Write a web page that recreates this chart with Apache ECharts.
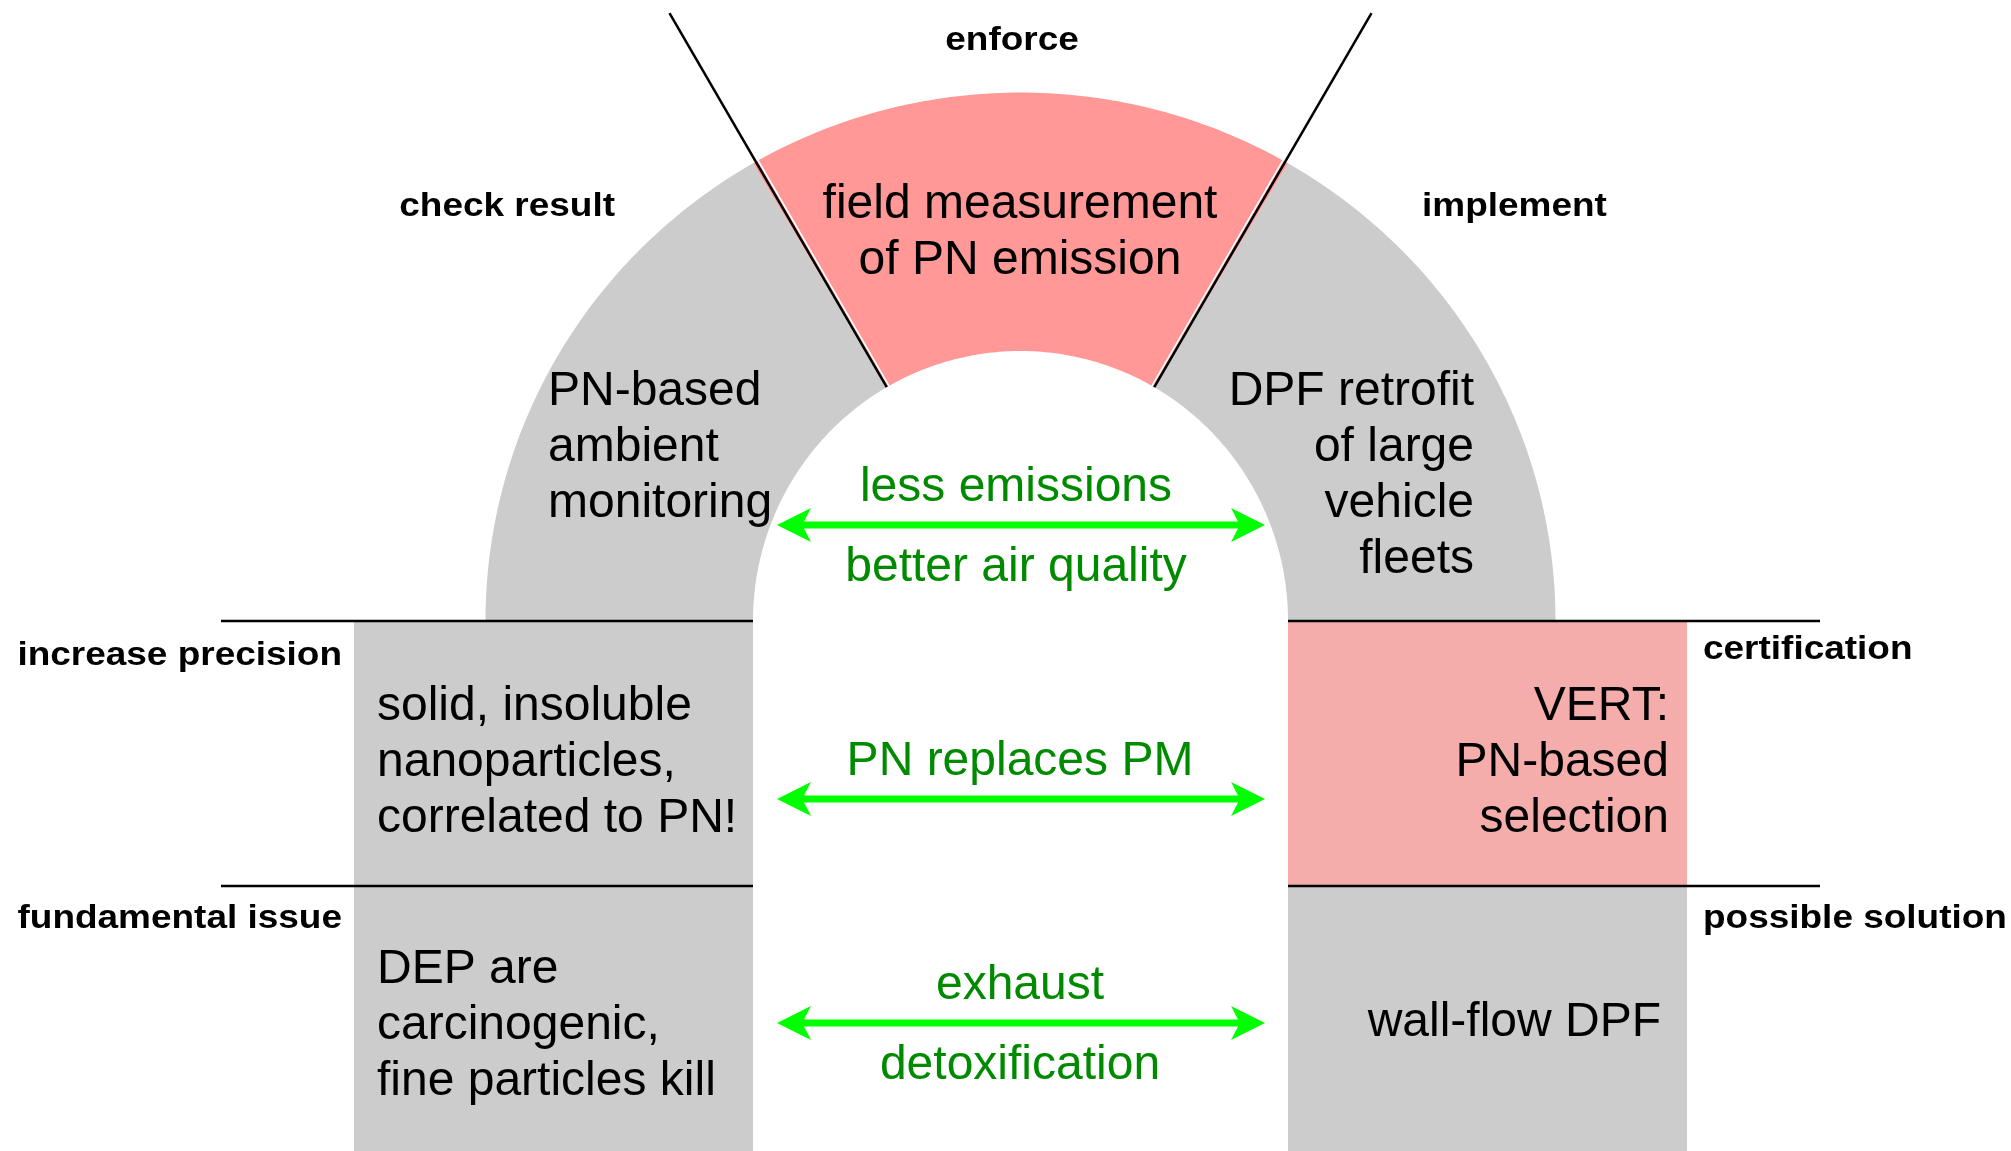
<!DOCTYPE html>
<html>
<head>
<meta charset="utf-8">
<script src="https://cdn.jsdelivr.net/npm/echarts@6/dist/echarts.min.js"></script>
<style>
html,body{margin:0;padding:0;background:#ffffff;}
#main{width:2011px;height:1151px;}
</style>
</head>
<body>
<div id="main"></div>
<script>
// ---------------- data ----------------
const archStages = ['implement', 'enforce', 'check result'];
const archStageAngles = [[0, 60], [60, 120], [120, 180]];
const archStageTexts = [
  ['DPF retrofit', 'of large', 'vehicle', 'fleets'],
  ['field measurement', 'of PN emission'],
  ['PN-based', 'ambient', 'monitoring']
];
const archStageHighlight = [0, 1, 0];

const leftRowLabels = ['increase precision', 'fundamental issue'];
const leftRowTexts = [
  ['solid, insoluble', 'nanoparticles,', 'correlated to PN!'],
  ['DEP are', 'carcinogenic,', 'fine particles kill']
];
const rightRowLabels = ['certification', 'possible solution'];
const rightRowTexts = [
  ['VERT:', 'PN-based', 'selection'],
  ['wall-flow DPF']
];
const rightRowHighlight = [1, 0];

const arrowLabelsAbove = ['less emissions', 'PN replaces PM', 'exhaust'];
const arrowLabelsBelow = ['better air quality', '', 'detoxification'];

// ---------------- layout & style ----------------
const layout = {
  center: [1020.5, 621],
  outerR: [535, 528.5], innerR: [267.5, 270], dividerR: 702,
  rowEdges: [621, 886, 1151],
  leftBox: [354, 753], rightBox: [1288, 1687],
  leftRule: [221, 753], rightRule: [1288, 1820],
  arrowX: [777, 1265], arrowY: [525, 799, 1023],
  arrowShaft: 7, headLen: 34, headHalf: 17, notch: 27,
  lineStep: 56,
  stageLabelPos: [[1422, 216, 'left'], [1012, 50, 'center'], [615, 216, 'right']],
  stageTextPos: [[1474, 405, 'right'], [1020, 218, 'center'], [548, 405, 'left']],
  leftLabelX: 342, leftLabelBase: [665, 928],
  leftTextX: 377, leftTextBase: [720, 983],
  rightLabelX: 1703, rightLabelBase: [659, 928],
  rightTextX: [1669, 1661], rightTextBase: [720, 1036],
  arrowAbove: 24, arrowBelow: 56, arrowTextX: [1016, 1020, 1020]
};
const GREY = '#CCCCCC', RED = '#FF9896', PINK = '#F4ADAB';
const GREEN_TEXT = '#008A00', ARROW = '#00FF00';
const FONT = '"Liberation Sans", Arial, Helvetica, sans-serif';
const BIG = 48, SMALL = 33, STRETCH = 1.12, MID = 0.28;

function txt(api, x, base, text, o) {
  const p = api.coord([x, base]);
  const fs = o.size;
  return {
    type: 'text',
    x: p[0], y: p[1] - MID * fs,
    scaleX: o.stretch || 1,
    style: {
      x: 0, y: 0, text: text,
      fill: o.color || '#000000',
      font: (o.bold ? 'bold ' : '') + fs + 'px ' + FONT,
      align: o.align || 'left',
      verticalAlign: 'middle'
    }
  };
}
function lines(api, x, base, arr, o) {
  return arr.map((t, k) => txt(api, x, base + k * layout.lineStep, t, o));
}
function ellPt(api, ang, rad) {
  const c = layout.center;
  return api.coord([c[0] + rad[0] * Math.cos(ang), c[1] - rad[1] * Math.sin(ang)]);
}

const chart = echarts.init(document.getElementById('main'), null, {renderer: 'canvas'});
chart.setOption({
  animation: false,
  backgroundColor: '#ffffff',
  grid: {left: 0, right: 0, top: 0, bottom: 0},
  xAxis: {type: 'value', min: 0, max: 2011, show: false},
  yAxis: {type: 'value', min: 0, max: 1151, inverse: true, show: false},
  series: [
    { // arch stages
      type: 'custom', coordinateSystem: 'cartesian2d', silent: true, z: 1,
      data: archStages.map((s, i) => [i, 0]),
      renderItem: function (params, api) {
        const i = api.value(0);
        const a0 = archStageAngles[i][0] * Math.PI / 180, a1 = archStageAngles[i][1] * Math.PI / 180;
        const N = 80, pts = [];
        for (let k = 0; k <= N; k++) pts.push(ellPt(api, a0 + (a1 - a0) * k / N, layout.outerR));
        for (let k = N; k >= 0; k--) pts.push(ellPt(api, a0 + (a1 - a0) * k / N, layout.innerR));
        const ch = [{type: 'polygon', shape: {points: pts}, style: {fill: archStageHighlight[i] ? RED : GREY}}];
        const lp = layout.stageLabelPos[i];
        ch.push(txt(api, lp[0], lp[1], archStages[i], {size: SMALL, bold: true, stretch: STRETCH, align: lp[2]}));
        const tp = layout.stageTextPos[i];
        lines(api, tp[0], tp[1], archStageTexts[i], {size: BIG, align: tp[2]}).forEach(e => ch.push(e));
        return {type: 'group', children: ch};
      }
    },
    { // dividers between arch stages
      type: 'custom', coordinateSystem: 'cartesian2d', silent: true, z: 2,
      data: archStageAngles.slice(1).map(a => [a[0], 0]),
      renderItem: function (params, api) {
        const deg = api.value(0);
        const ang = deg * Math.PI / 180;
        const p1 = ellPt(api, ang, layout.innerR);
        const p2 = ellPt(api, ang, [layout.dividerR, layout.dividerR]);
        const s = deg < 90 ? 1 : -1;
        const nx = -Math.sin(ang) * s * 2.6, ny = -Math.cos(ang) * s * 2.6;
        return {type: 'group', children: [
          {type: 'line', shape: {x1: p1[0] + nx, y1: p1[1] + ny, x2: p2[0] + nx, y2: p2[1] + ny},
            style: {stroke: '#ffffff', lineWidth: 1.6}},
          {type: 'line', shape: {x1: p1[0], y1: p1[1], x2: p2[0], y2: p2[1]},
            style: {stroke: '#000000', lineWidth: 2.5}}
        ]};
      }
    },
    { // side rows
      type: 'custom', coordinateSystem: 'cartesian2d', silent: true, z: 3,
      data: leftRowLabels.map((s, i) => [i, 0]),
      renderItem: function (params, api) {
        const i = api.value(0);
        const yT = layout.rowEdges[i], yB = layout.rowEdges[i + 1];
        const lt = api.coord([layout.leftBox[0], yT]), lb = api.coord([layout.leftBox[1], yB]);
        const rt = api.coord([layout.rightBox[0], yT]), rb = api.coord([layout.rightBox[1], yB]);
        const ch = [
          {type: 'rect', shape: {x: lt[0], y: lt[1], width: lb[0] - lt[0], height: lb[1] - lt[1]}, style: {fill: GREY}},
          {type: 'rect', shape: {x: rt[0], y: rt[1], width: rb[0] - rt[0], height: rb[1] - rt[1]}, style: {fill: rightRowHighlight[i] ? PINK : GREY}}
        ];
        const l1 = api.coord([layout.leftRule[0], yT]), l2 = api.coord([layout.leftRule[1], yT]);
        const r1 = api.coord([layout.rightRule[0], yT]), r2 = api.coord([layout.rightRule[1], yT]);
        ch.push({type: 'line', shape: {x1: l1[0], y1: l1[1], x2: l2[0], y2: l2[1]}, style: {stroke: '#000', lineWidth: 2.5}});
        ch.push({type: 'line', shape: {x1: r1[0], y1: r1[1], x2: r2[0], y2: r2[1]}, style: {stroke: '#000', lineWidth: 2.5}});
        ch.push(txt(api, layout.leftLabelX, layout.leftLabelBase[i], leftRowLabels[i], {size: SMALL, bold: true, stretch: STRETCH, align: 'right'}));
        ch.push(txt(api, layout.rightLabelX, layout.rightLabelBase[i], rightRowLabels[i], {size: SMALL, bold: true, stretch: STRETCH, align: 'left'}));
        lines(api, layout.leftTextX, layout.leftTextBase[i], leftRowTexts[i], {size: BIG, align: 'left'}).forEach(e => ch.push(e));
        lines(api, layout.rightTextX[i], layout.rightTextBase[i], rightRowTexts[i], {size: BIG, align: 'right'}).forEach(e => ch.push(e));
        return {type: 'group', children: ch};
      }
    },
    { // double arrows
      type: 'custom', coordinateSystem: 'cartesian2d', silent: true, z: 4,
      data: arrowLabelsAbove.map((s, i) => [i, 0]),
      renderItem: function (params, api) {
        const i = api.value(0);
        const y = layout.arrowY[i];
        const a = api.coord([layout.arrowX[0], y]), b = api.coord([layout.arrowX[1], y]);
        const h = layout.headLen, w = layout.headHalf, n = layout.notch, t = layout.arrowShaft / 2;
        const py = a[1];
        const pts = [
          [a[0], py], [a[0] + h, py - w], [a[0] + n, py - t], [b[0] - n, py - t], [b[0] - h, py - w],
          [b[0], py], [b[0] - h, py + w], [b[0] - n, py + t], [a[0] + n, py + t], [a[0] + h, py + w]
        ];
        const ch = [{type: 'polygon', shape: {points: pts}, style: {fill: ARROW}}];
        const tx = layout.arrowTextX[i];
        if (arrowLabelsAbove[i]) ch.push(txt(api, tx, y - layout.arrowAbove, arrowLabelsAbove[i], {size: BIG, color: GREEN_TEXT, align: 'center'}));
        if (arrowLabelsBelow[i]) ch.push(txt(api, tx, y + layout.arrowBelow, arrowLabelsBelow[i], {size: BIG, color: GREEN_TEXT, align: 'center'}));
        return {type: 'group', children: ch};
      }
    }
  ]
});
</script>
</body>
</html>
